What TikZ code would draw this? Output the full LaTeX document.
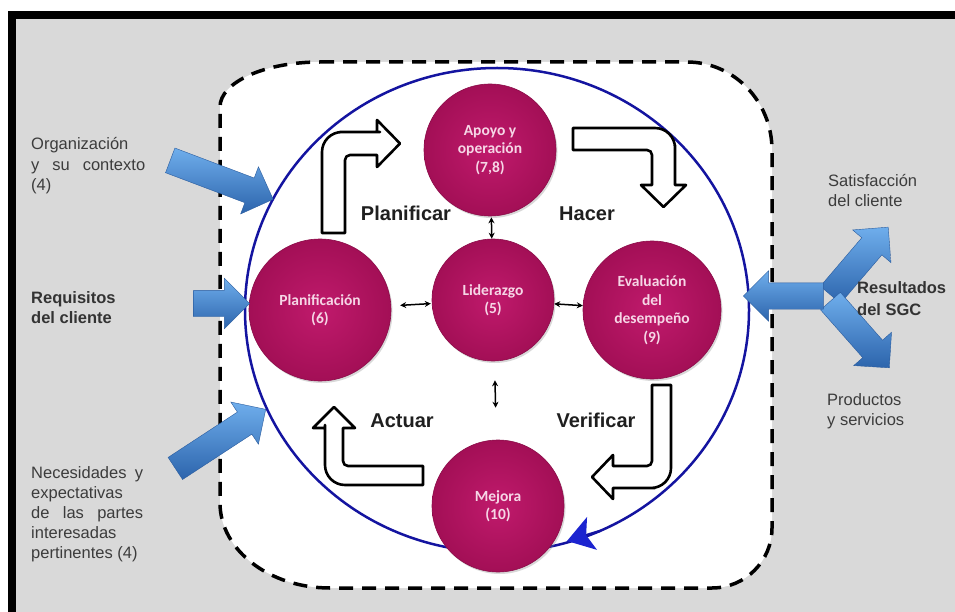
\documentclass[tikz,border=0pt]{standalone}
\usepackage{fontspec}
\setmainfont{Liberation Sans}
\newfontfamily\calibri{Carlito}
\usetikzlibrary{shapes.arrows,arrows.meta,shadows}

\definecolor{bgrey}{HTML}{D9D9D9}
\definecolor{ink}{HTML}{3C3C3C}
\definecolor{maglight}{HTML}{C01A6C}
\definecolor{magdark}{HTML}{A30F56}
\definecolor{magtext}{HTML}{F6D6E6}
\definecolor{ringblue}{HTML}{1414A0}
\definecolor{tipblue}{HTML}{1C24D0}
\definecolor{arrtop}{HTML}{6FAEEC}
\definecolor{arrbot}{HTML}{2C64AC}
\definecolor{arredge}{HTML}{2A5C9E}

\tikzset{
  stage/.style={circle, inner sep=0pt, shading=radial, inner color=maglight,
    outer color=magdark, draw=magdark!85!black, line width=0.6pt, text=magtext,
    align=center, font=\calibri\bfseries\fontsize{15.5}{18.5}\selectfont,
    drop shadow={opacity=0.3, shadow xshift=1.5pt, shadow yshift=-2pt}},
  flowarrow/.style={draw=black, fill=white, line width=2.6pt, line join=round},
  link/.style={{Stealth[length=6pt,width=6pt]}-{Stealth[length=6pt,width=6pt]}, line width=1.5pt},
  inarrow/.style={single arrow, single arrow head extend=12pt, inner xsep=0pt,
    inner ysep=13pt, minimum height=#1, text height=0pt, text depth=0pt,
    top color=arrtop, bottom color=arrbot, draw=arredge, line width=0.4pt},
  lbl/.style={anchor=base west, inner sep=0pt, text=ink, font=\fontsize{16.5}{20}\selectfont},
  lblb/.style={lbl, text=black!80, font=\bfseries\fontsize{16.5}{20}\selectfont},
  phase/.style={anchor=base, inner sep=0pt, text=black!88, font=\bfseries\fontsize{20}{24}\selectfont},
}

\begin{document}
\begin{tikzpicture}[x=1pt,y=-1pt]
\useasboundingbox (0,0) rectangle (955,612);
\fill[white] (0,0) rectangle (955,612);
\fill[bgrey] (16,19) rectangle (955,612);
\fill[black] (8,11) rectangle (955,19);
\fill[black] (8,11) rectangle (16,612);

% system boundary
\draw[fill=white, line width=3.5pt, dash pattern=on 14pt off 9pt]
  (320,62) -- (687,62) arc[start angle=-90, end angle=0, x radius=85, y radius=88]
  -- (772,528) arc[start angle=0, end angle=90, x radius=60, y radius=60]
  -- (330,588) arc[start angle=90, end angle=180, x radius=110, y radius=85]
  -- (220,107) arc[start angle=180, end angle=270, x radius=100, y radius=45] -- cycle;

% improvement cycle ring
\draw[ringblue, line width=2.5pt] (497,310) ellipse [x radius=252, y radius=242];

% PDCA flow arrows
\draw[flowarrow] (322,233) -- (322,165) [rounded corners=20pt] -- (322,132) -- (360,132)
  [sharp corners] -- (377,132) -- (377,120) -- (400,143.5) -- (377,167) -- (377,155)
  -- (352,155) [rounded corners=5pt] -- (345,155) -- (345,170) [sharp corners] -- (345,233) -- cycle;
\draw[flowarrow] (573,128) -- (630,128) [rounded corners=20pt] -- (675,128) -- (675,165)
  [sharp corners] -- (675,185) -- (686,185) -- (663.5,207) -- (641,185) -- (652,185)
  -- (652,160) [rounded corners=5pt] -- (652,150) -- (640,150) [sharp corners] -- (573,150) -- cycle;
\draw[flowarrow] (652,385) -- (671,385) -- (671,445) [rounded corners=20pt] -- (671,488) -- (635,488)
  [sharp corners] -- (613,488) -- (613,499) -- (592,477) -- (613,455) -- (613,466)
  -- (640,466) [rounded corners=5pt] -- (652,466) -- (652,455) [sharp corners] -- (652,385) -- cycle;
\draw[flowarrow] (423,466) -- (423,485) -- (365,485) [rounded corners=20pt] -- (325,485) -- (325,445)
  [sharp corners] -- (325,428) -- (313,428) -- (334,407) -- (355,428) -- (343,428)
  -- (343,455) [rounded corners=5pt] -- (343,466) -- (355,466) [sharp corners] -- (423,466) -- cycle;

% stages
\node[stage, minimum size=132pt] (apoyo) at (490,150) {Apoyo y\\operación\\(7,8)};
\node[stage, minimum size=142pt] (plan) at (320,310) {Planificación\\(6)};
\node[stage, minimum size=122pt] (lider) at (493,300) {Liderazgo\\(5)};
\node[stage, minimum size=138pt] (eval) at (652,310) {Evaluación\\del\\desempeño\\(9)};
\node[stage, minimum size=132pt] (mejora) at (498,506) {Mejora\\(10)};

% ring arrow head
\draw[ringblue, line width=2.5pt, -{Stealth[length=26pt, width=34pt, inset=6pt, color=tipblue]}] (600,531) -- (567,541);

% links to leadership
\draw[link, shorten <=9pt, shorten >=1pt] (plan) -- (lider);
\draw[link] (lider) -- (eval);
\draw[link, shorten <=1pt] (apoyo) -- (lider);
\draw[link, shorten <=19pt, shorten >=32pt] (lider) -- (mejora);

% phase names
\node[phase] (tplan) at (406,221) {Planificar};
\node[phase] (thacer) at (587,221) {Hacer};
\node[phase] (tact) at (402,427) {Actuar};
\node[phase] (tver) at (596,427) {Verificar};

% inputs
\node[inarrow=110pt, rotate=-20.7] (inorg) at (215.5,177.5) {};
\node[inarrow=56pt] (inreq) at (215,303.5) {};
\node[inarrow=108pt, rotate=33.2] (innec) at (215,442.5) {};

% outputs
\node[inarrow=89pt, rotate=49.5] (outsat) at (855,266) {};
\node[inarrow=89pt, rotate=-48.6] (outprod) at (855.5,329.5) {};
\node[inarrow=80pt, rotate=180] (outres) at (790,296) {};

% input texts
\node[lbl] (org1) at (31,150) {Organización};
\node[lbl] (org2) at (31,170.5) {\makebox[114pt][s]{y su contexto}};
\node[lbl] (org3) at (31,191) {(4)};
\node[lblb] (req1) at (31,303) {Requisitos};
\node[lblb] (req2) at (31,323) {del cliente};
\node[lbl] (nec1) at (31,478) {\makebox[112pt][s]{Necesidades y}};
\node[lbl] (nec2) at (31,498) {expectativas};
\node[lbl] (nec3) at (31,518) {\makebox[112pt][s]{de las partes}};
\node[lbl] (nec4) at (31,538) {interesadas};
\node[lbl] (nec5) at (31,558) {pertinentes (4)};

% output texts
\node[lbl] (sat1) at (828,187) {Satisfacción};
\node[lbl] (sat2) at (828,207) {del cliente};
\node[lblb] (res1) at (857,293) {Resultados};
\node[lblb] (res2) at (857,315) {del SGC};
\node[lbl] (prod1) at (827,405) {Productos};
\node[lbl] (prod2) at (827,425) {y servicios};
\end{tikzpicture}
\end{document}
